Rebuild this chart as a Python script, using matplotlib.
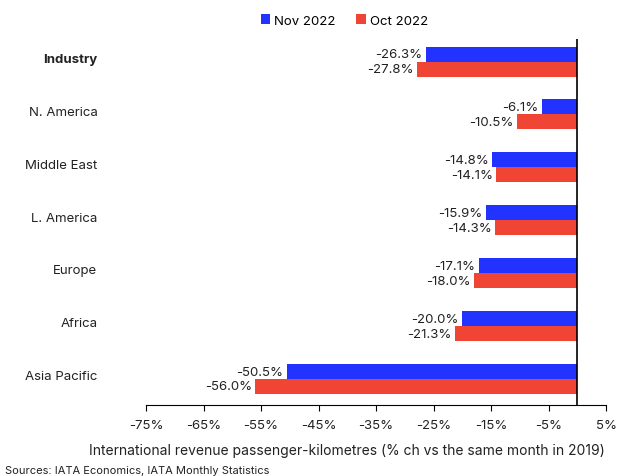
import matplotlib.pyplot as plt
import numpy as np

plt.rcParams['font.family'] = ['Inter', 'DejaVu Sans']

regions = ['Industry', 'N. America', 'Middle East', 'L. America', 'Europe', 'Africa', 'Asia Pacific']
nov_2022 = [-26.3, -6.1, -14.8, -15.9, -17.1, -20.0, -50.5]
oct_2022 = [-27.8, -10.5, -14.1, -14.3, -18.0, -21.3, -56.0]
xticks = [-75, -65, -55, -45, -35, -25, -15, -5, 5]

blue = '#2233FF'
red = '#F04535'
txt = '#222222'
fs = 9.5

fig = plt.figure(figsize=(6.19, 4.77), dpi=100)
ax = fig.add_axes([0.236, 0.149, 0.743, 0.767])

y = np.arange(len(regions))
h = 0.283
ax.barh(y - h / 2, nov_2022, height=h, color=blue, label='Nov 2022')
ax.barh(y + h / 2, oct_2022, height=h, color=red, label='Oct 2022')

for yi, v in zip(y, nov_2022):
    ax.text(v - 0.6, yi - h / 2, f'{v:.1f}%', ha='right', va='center', fontsize=fs, color=txt)
for yi, v in zip(y, oct_2022):
    ax.text(v - 0.6, yi + h / 2, f'{v:.1f}%', ha='right', va='center', fontsize=fs, color=txt)

ax.axvline(0, color='black', lw=1.2)

ax.set_xlim(-75, 5)
ax.set_ylim(6.49, -0.425)
ax.set_xticks(xticks)
ax.set_xticklabels([f'{t}%' for t in xticks], fontsize=fs, color=txt)
ax.set_yticks(y - 0.08)
ax.set_yticklabels(regions, fontsize=fs, color=txt)
ax.get_yticklabels()[0].set_fontweight('bold')
ax.tick_params(axis='y', length=0, pad=35)
ax.tick_params(axis='x', length=4, color='black', pad=6)

for s in ['top', 'right', 'left']:
    ax.spines[s].set_visible(False)
ax.spines['bottom'].set_color('black')

fig.text(0.561, 0.055, 'International revenue passenger-kilometres (% ch vs the same month in 2019)',
         fontsize=10, color=txt, ha='center', va='center')

fig.legend(loc='upper center', bbox_to_anchor=(0.556, 0.993), ncol=2, frameon=False,
           fontsize=fs, handlelength=0.75, handleheight=0.75, handletextpad=0.25,
           columnspacing=1.6)
fig.text(0.008, 0.012, 'Sources: IATA Economics, IATA Monthly Statistics', fontsize=8,
         color=txt, va='center')

fig.savefig('out.png', dpi=100)
